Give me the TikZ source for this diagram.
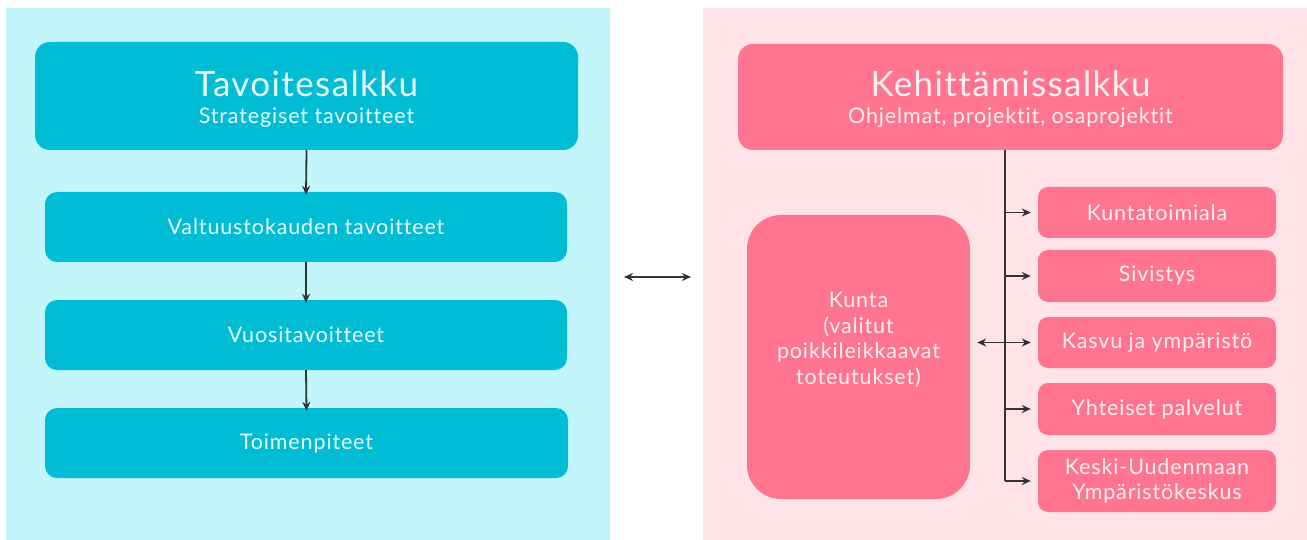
\documentclass[tikz,border=0pt]{standalone}
\usepackage{fontspec}
\setmainfont{Lato}[LetterSpace=4.0,Ligatures={NoCommon}]
\usetikzlibrary{arrows.meta}
\definecolor{cyanbg}{HTML}{C3F6FB}
\definecolor{tealbox}{HTML}{00BCD4}
\definecolor{tealtext}{HTML}{E6FBFF}
\definecolor{pinkbg}{HTML}{FFE3E9}
\definecolor{pinkbox}{HTML}{FF7590}
\definecolor{pinktext}{HTML}{FFEEF2}
\definecolor{arrowc}{HTML}{333333}
\begin{document}
\begin{tikzpicture}[x=1pt,y=-1pt,
  tbox/.style={fill=tealbox,rounded corners=12pt,text=tealtext,inner sep=0pt,align=center,font=\fontsize{21.5}{26}\selectfont},
  pbox/.style={fill=pinkbox,rounded corners=10pt,text=pinktext,inner sep=0pt,align=center,font=\fontsize{21.5}{26}\selectfont},
  conn/.style={draw=arrowc,line width=1.8pt,-{Stealth[length=9pt,width=8pt]}},
  dconn/.style={draw=arrowc,line width=1.8pt,{Stealth[length=9pt,width=8pt]}-{Stealth[length=9pt,width=8pt]}},
  titletext/.style={anchor=base,inner sep=0pt,font=\fontsize{35}{40}\selectfont},
  subtext/.style={anchor=base,inner sep=0pt,font=\fontsize{21.5}{26}\selectfont}
]
\useasboundingbox (0,0) rectangle (1307,540);
% panels
\fill[cyanbg] (6,8) rectangle (610,540);
\fill[pinkbg] (703,8) rectangle (1307,540);

% left column
\node[tbox,rounded corners=15pt,minimum width=543pt,minimum height=108pt] (tav) at (306.5,96) {};
\node[titletext,text=tealtext] (tavtitle) at (306.5,97) {Tavoitesalkku};
\node[subtext,text=tealtext] (tavsub) at (306.5,124) {Strategiset tavoitteet};
\node[tbox,minimum width=522pt,minimum height=70pt] (valt) at (306,227) {Valtuustokauden tavoitteet};
\node[tbox,minimum width=522pt,minimum height=70pt] (vuosi) at (306,335) {Vuositavoitteet};
\node[tbox,minimum width=523pt,minimum height=70pt] (toim) at (306.5,443) {Toimenpiteet};
\draw[conn] (tav.south) -- ([yshift=-3pt]valt.north);
\draw[conn] (valt.south) -- ([yshift=-3pt]vuosi.north);
\draw[conn] (vuosi.south) -- ([yshift=-3pt]toim.north);

% middle double arrow
\coordinate (da1) at (624,277);
\coordinate (da2) at (691,277);
\draw[dconn] (da1) -- (da2);

% right column
\node[pbox,rounded corners=15pt,minimum width=545pt,minimum height=106pt] (keh) at (1010.5,97) {};
\node[titletext,text=pinktext] (kehtitle) at (1010.5,97) {Kehittämissalkku};
\node[subtext,text=pinktext] (kehsub) at (1010.5,124) {Ohjelmat, projektit, osaprojektit};
\node[pbox,minimum width=238pt,minimum height=51pt] (kunt) at (1157,212.5) {Kuntatoimiala};
\node[pbox,minimum width=238pt,minimum height=52pt] (siv) at (1157,276) {Sivistys};
\node[pbox,minimum width=238pt,minimum height=51pt] (kasvu) at (1157,342.5) {Kasvu ja ympäristö};
\node[pbox,minimum width=238pt,minimum height=52pt] (yht) at (1157,409) {Yhteiset palvelut};
\node[pbox,minimum width=238pt,minimum height=62pt,font=\fontsize{21.5}{25}\selectfont] (keski) at (1157,481) {Keski-Uudenmaan\\Ympäristökeskus};
\node[pbox,rounded corners=34pt,minimum width=223pt,minimum height=284pt] (kunta) at (858.5,357) {};
\node[text=pinktext,align=center,font=\fontsize{21.5}{25.5}\selectfont,inner sep=0pt] (kuntatext) at (858.5,340)
  {Kunta\\(valitut\\poikkileikkaavat\\toteutukset)};

\coordinate (trunk) at (1005,150);
\draw[draw=arrowc,line width=1.8pt] (keh.south -| trunk) -- (trunk |- keski.west);
\draw[conn,shorten >=7pt] (trunk |- kunt.west) -- (kunt.west);
\draw[conn,shorten >=7pt] (trunk |- siv.west) -- (siv.west);
\draw[conn,shorten >=7pt] (trunk |- yht.west) -- (yht.west);
\draw[conn,shorten >=7pt] (trunk |- keski.west) -- (keski.west);
\draw[dconn,shorten >=7pt,shorten <=7pt] (kunta.east |- kasvu.west) -- (kasvu.west);
\end{tikzpicture}
\end{document}
